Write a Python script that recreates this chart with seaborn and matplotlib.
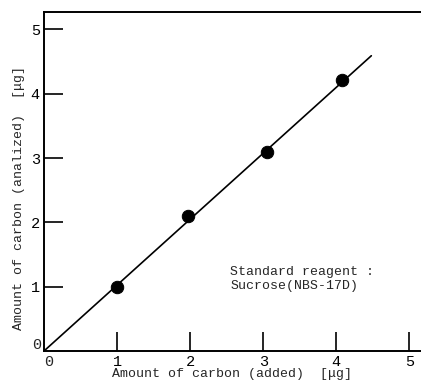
import matplotlib
matplotlib.use("Agg")
import matplotlib.pyplot as plt
import seaborn as sns
import pandas as pd
import numpy as np

added = [1.0, 1.97, 3.05, 4.08]
analyzed = [1.0, 2.1, 3.1, 4.22]
line_x = [0.0, 4.48]
line_y = [0.0, 4.59]
ticks = [1, 2, 3, 4, 5]

sns.set_style("ticks")
plt.rcParams['font.family'] = ['Liberation Mono', 'DejaVu Sans']

fig = plt.figure(figsize=(4.21, 3.85), dpi=100)
ax = fig.add_axes([0.1045, 0.0883, 0.8955, 0.8805])

df = pd.DataFrame({"added": added, "analyzed": analyzed})
sns.lineplot(x=line_x, y=line_y, ax=ax, color="black", linewidth=1.2)
sns.scatterplot(data=df, x="added", y="analyzed", ax=ax, color="black", s=80, edgecolor="black", zorder=3)

ax.set_xlim(0, 5.16)
ax.set_ylim(0, 5.27)
ax.set_xticks(ticks)
ax.set_yticks(ticks)
ax.set_xticklabels([str(t) for t in ticks], fontsize=11)
ax.set_yticklabels([str(t) for t in ticks], fontsize=11)
ax.tick_params(direction="in", length=14, width=1.2, pad=3, colors="black")
for s in ["left", "bottom", "top"]:
    ax.spines[s].set_linewidth(1.4)
    ax.spines[s].set_color("black")
ax.spines["right"].set_visible(False)

ax.text(-0.04, -0.02, "0", transform=ax.transData, ha="right", va="bottom", fontsize=11)
ax.text(0.0, -0.06, "0", transform=ax.transData, ha="left", va="top", fontsize=11)

ax.set_xlabel("Amount of carbon (added)  [\u03bcg]", fontsize=9.5, labelpad=-1)
ax.set_ylabel("Amount of carbon (analized)  [\u03bcg]", fontsize=9.5)
ax.yaxis.set_label_coords(-0.05, 0.45)

ax.text(2.55, 1.12, "Standard reagent :\nSucrose(NBS-17D)", fontsize=9.5, ha="left", va="center", linespacing=1.2)

fig.savefig("out.png", dpi=100)
